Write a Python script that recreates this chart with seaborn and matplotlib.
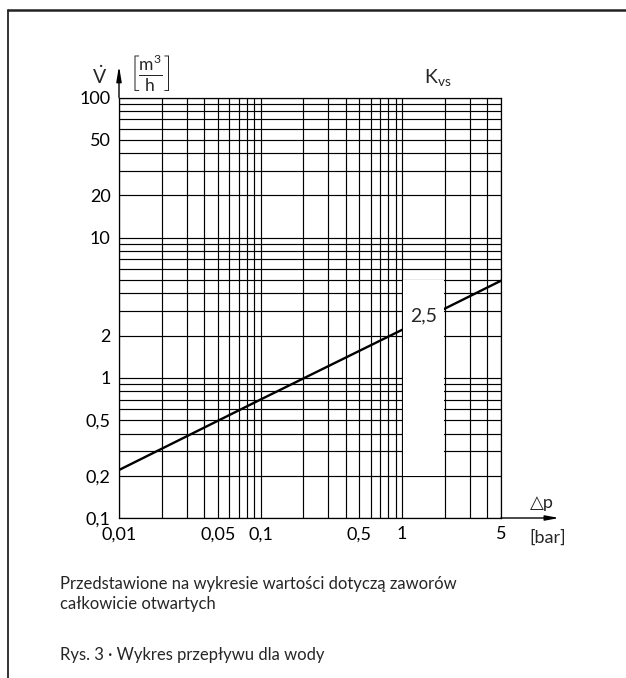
import numpy as np
import pandas as pd
import matplotlib
matplotlib.use("Agg")
import matplotlib.pyplot as plt
from matplotlib.lines import Line2D
from matplotlib.patches import Rectangle
from matplotlib.ticker import FixedLocator, FixedFormatter, LogLocator, NullFormatter
import seaborn as sns

# values (flow vs pressure drop, Kvs 2.5 line)
dp_bar = [0.01, 0.1, 1, 5]
flow_m3h = [0.22, 0.70, 2.2, 4.93]

x_ticks = [0.01, 0.05, 0.1, 0.5, 1, 5]
x_labels = ["0,01", "0,05", "0,1", "0,5", "1", "5"]
y_ticks = [0.1, 0.2, 0.5, 1, 2, 10, 20, 50, 100]
y_labels = ["0,1", "0,2", "0,5", "1", "2", "10", "20", "50", "100"]
kvs_label = "2,5"

caption_1 = "Przedstawione na wykresie wartości dotyczą zaworów"
caption_2 = "całkowicie otwartych"
figure_title = "Rys. 3 · Wykres przepływu dla wody"

sns.set_style("white")
plt.rcParams["font.family"] = ["Lato", "DejaVu Sans"]
plt.rcParams["mathtext.fontset"] = "custom"
plt.rcParams["mathtext.rm"] = "Lato"
plt.rcParams["mathtext.it"] = "Lato"

W, H = 626, 678
fig = plt.figure(figsize=(W / 100, H / 100), dpi=100)
ax = fig.add_axes([119 / W, 1 - 518 / H, 382 / W, 420.5 / H])


def px(x, y):
    return x / W, 1 - y / H


df = pd.DataFrame({"dp": dp_bar, "q": flow_m3h})
sns.lineplot(data=df, x="dp", y="q", ax=ax, color="black", linewidth=1.7, zorder=2)

ax.set_xscale("log")
ax.set_yscale("log")
ax.set_xlim(0.01, 5)
ax.set_ylim(0.1, 100)

ax.xaxis.set_major_locator(FixedLocator(x_ticks))
ax.xaxis.set_major_formatter(FixedFormatter(x_labels))
ax.yaxis.set_major_locator(FixedLocator(y_ticks))
ax.yaxis.set_major_formatter(FixedFormatter(y_labels))
ax.xaxis.set_minor_locator(LogLocator(base=10, subs=np.arange(1, 10), numticks=20))
ax.yaxis.set_minor_locator(LogLocator(base=10, subs=np.arange(1, 10), numticks=20))
ax.xaxis.set_minor_formatter(NullFormatter())
ax.yaxis.set_minor_formatter(NullFormatter())
ax.tick_params(which="major", direction="out", length=4, width=0.9, color="black",
               labelsize=13, pad=2, labelcolor="black")
ax.tick_params(which="minor", length=0)
ax.grid(which="both", color="black", linewidth=0.85)
ax.set_axisbelow(True)
ax.set_xlabel("")
ax.set_ylabel("")
for s in ax.spines.values():
    s.set_color("black")
    s.set_linewidth(0.9)

# blank column where the Kvs value is written
ax.add_patch(Rectangle((1.013, 0.2), 1.975 - 1.013, 5 - 0.2, facecolor="white",
                       edgecolor="none", zorder=3))
ax.text(1.42, 2.75, kvs_label, ha="center", va="center", fontsize=14, zorder=4)

# axis arrows
ax.annotate("", xy=(1.152, 0), xytext=(1, 0), xycoords="axes fraction",
            arrowprops=dict(arrowstyle="-|>,head_length=0.8,head_width=0.15",
                            color="black", lw=1.0, shrinkA=0, shrinkB=0), annotation_clip=False)
ax.annotate("", xy=(0, 1.075), xytext=(0, 1), xycoords="axes fraction",
            arrowprops=dict(arrowstyle="-|>,head_length=0.9,head_width=0.15",
                            color="black", lw=1.0, shrinkA=0, shrinkB=0), annotation_clip=False)

# axis titles
fig.text(*px(100, 76), r"$\mathrm{\dot{V}}$", ha="center", va="center", fontsize=14)
fig.text(*px(150, 74), r"$\left[\frac{\mathrm{m}^3}{\mathrm{h}}\right]$", ha="center",
         va="center", fontsize=18)
fig.text(*px(438, 77), r"$\mathrm{K_{vs}}$", ha="center", va="center", fontsize=14)
fig.text(*px(542, 503), "△p", ha="center", va="center", fontsize=13)
fig.text(*px(548, 538), "[bar]", ha="center", va="center", fontsize=13)

# captions
fig.text(*px(60, 584), caption_1, ha="left", va="center", fontsize=12)
fig.text(*px(60, 604), caption_2, ha="left", va="center", fontsize=12)
fig.text(*px(60, 655), figure_title, ha="left", va="center", fontsize=12)

# page frame
fig.add_artist(Line2D([8 / W, 1], [1 - 10 / H, 1 - 10 / H], color="#222222", lw=1.8))
fig.add_artist(Line2D([8 / W, 8 / W], [1 - 10 / H, 0], color="#222222", lw=1.3))

fig.savefig("out.png", dpi=100, facecolor="white")
